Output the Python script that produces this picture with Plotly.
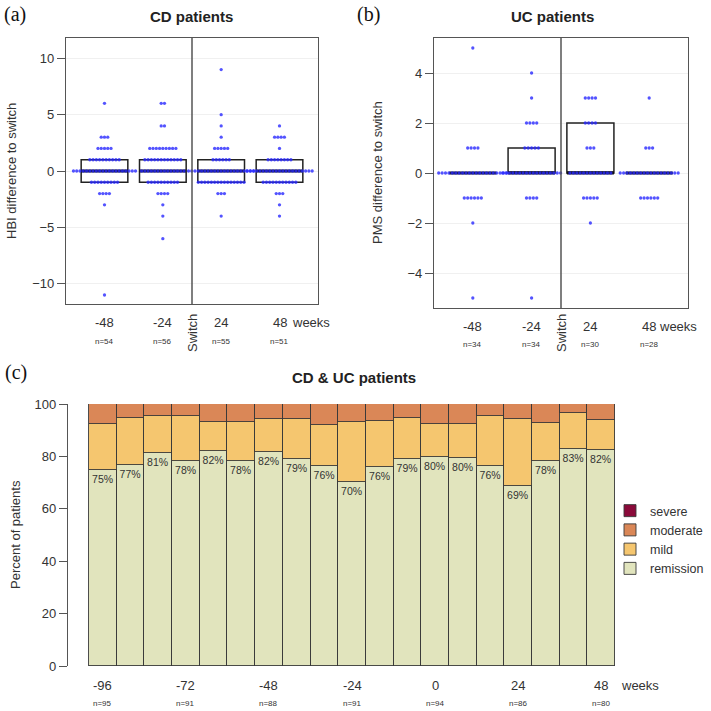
import plotly.graph_objects as go

# ---------------- data ----------------
# Panel (a): CD patients, HBI difference to switch; (value, count) per timepoint
cd_labels = ["-48", "-24", "24", "48"]
cd_n = [54, 56, 55, 51]
cd_m48 = [(6, 1), (3, 3), (2, 5), (1, 10), (0, 20), (-1, 9), (-2, 4), (-3, 1), (-11, 1)]
cd_m24 = [(6, 2), (4, 2), (2, 9), (1, 12), (0, 14), (-1, 10), (-2, 4), (-3, 1), (-4, 1), (-6, 1)]
cd_p24 = [(9, 1), (5, 1), (4, 1), (3, 1), (2, 5), (1, 6), (0, 21), (-1, 15), (-2, 3), (-4, 1)]
cd_p48 = [(4, 1), (3, 4), (2, 1), (1, 8), (0, 21), (-1, 11), (-2, 3), (-3, 1), (-4, 1)]
cd_q1 = [-1, -1, -1, -1]
cd_med = [0, 0, 0, 0]
cd_q3 = [1, 1, 1, 1]

# Panel (b): UC patients, PMS difference to switch
uc_labels = ["-48", "-24", "24", "48"]
uc_n = [34, 34, 30, 28]
uc_m48 = [(5, 1), (1, 4), (0, 21), (-1, 6), (-2, 1), (-5, 1)]
uc_m24 = [(4, 1), (3, 1), (2, 4), (1, 5), (0, 18), (-1, 4), (-5, 1)]
uc_p24 = [(3, 4), (2, 4), (1, 3), (0, 13), (-1, 5), (-2, 1)]
uc_p48 = [(3, 1), (1, 3), (0, 18), (-1, 6)]
uc_q1 = [0, 0, 0, 0]
uc_med = [0, 0, 0, 0]
uc_q3 = [0, 1, 2, 0]

# Panel (c): CD & UC patients, percent per category
weeks = [-96, -88, -80, -72, -64, -56, -48, -40, -32, -24, -16, -8, 0, 8, 16, 24, 32, 40, 48]
remission = [74.8, 76.7, 81.4, 78.1, 82.2, 78.1, 81.7, 78.9, 76.3, 70.4, 76.0, 79.1, 79.8, 79.5, 76.4, 68.7, 78.4, 83.0, 82.4]
mild = [17.7, 17.8, 14.0, 17.4, 11.1, 14.9, 12.6, 15.5, 15.8, 22.9, 17.4, 15.4, 12.4, 12.7, 19.1, 25.4, 14.2, 13.4, 11.4]
moderate = [7.5, 5.5, 4.6, 4.5, 6.7, 7.0, 5.7, 5.6, 7.9, 6.7, 6.6, 5.5, 7.8, 7.8, 4.5, 5.9, 7.4, 3.6, 6.2]
severe = [0] * 19
c_tick_weeks = [-96, -72, -48, -24, 0, 24, 48]
c_tick_n = [95, 91, 88, 91, 94, 86, 80]

# ---------------- styling ----------------
W = H = 711
FONT = "Liberation Sans, Arial, sans-serif"
SERIF = "Liberation Serif, Times New Roman, serif"
TXT = "#333333"
DOT = "rgba(40,40,255,0.8)"
COL_REM = "#E1E4BD"
COL_MILD = "#F5C66F"
COL_MOD = "#DA8757"
COL_SEV = "#8A0A3A"


def px_x(p):
    return p / W


def px_y(p):
    return 1 - p / H


fig = go.Figure()


def add_dot_panel(groups, q1, med, q3, xa, ya, dx):
    xs = [1, 2, 3, 4]
    # boxes (no whiskers)
    fig.add_trace(go.Box(
        x=xs, q1=q1, median=med, q3=q3, lowerfence=q1, upperfence=q3,
        width=0.8, whiskerwidth=0, fillcolor="rgba(0,0,0,0)",
        line=dict(color="#222222", width=1.5), boxpoints=False,
        xaxis=xa, yaxis=ya, showlegend=False, hoverinfo="skip"))
    # thick median lines
    mx, my = [], []
    for x, m in zip(xs, med):
        mx += [x - 0.4, x + 0.4, None]
        my += [m, m, None]
    fig.add_trace(go.Scatter(x=mx, y=my, mode="lines", line=dict(color="#111111", width=3),
                             xaxis=xa, yaxis=ya, showlegend=False, hoverinfo="skip"))
    # dots
    dxs, dys = [], []
    for x, grp in zip(xs, groups):
        for v, c in grp:
            for k in range(c):
                dxs.append(x + (k - (c - 1) / 2) * dx)
                dys.append(v)
    fig.add_trace(go.Scatter(x=dxs, y=dys, mode="markers",
                             marker=dict(size=3.3, color=DOT, line=dict(width=0)),
                             xaxis=xa, yaxis=ya, showlegend=False, hoverinfo="skip"))


add_dot_panel([cd_m48, cd_m24, cd_p24, cd_p48], cd_q1, cd_med, cd_q3, "x", "y", 0.056)
add_dot_panel([uc_m48, uc_m24, uc_p24, uc_p48], uc_q1, uc_med, uc_q3, "x2", "y2", 0.058)

# Panel (c) stacked bars
idx = list(range(len(weeks)))
bar_line = dict(color="#3a3a3a", width=0.9)
fig.add_trace(go.Bar(x=idx, y=remission, name="remission", marker=dict(color=COL_REM, line=bar_line),
                     text=[f"{round(v)}%" for v in remission], textposition="inside",
                     insidetextanchor="end", textangle=0, constraintext="none",
                     textfont=dict(size=10.5, color=TXT, family=FONT),
                     xaxis="x3", yaxis="y3", hoverinfo="skip"))
fig.add_trace(go.Bar(x=idx, y=mild, name="mild", marker=dict(color=COL_MILD, line=bar_line),
                     xaxis="x3", yaxis="y3", hoverinfo="skip"))
fig.add_trace(go.Bar(x=idx, y=moderate, name="moderate", marker=dict(color=COL_MOD, line=bar_line),
                     xaxis="x3", yaxis="y3", hoverinfo="skip"))
fig.add_trace(go.Bar(x=idx, y=severe, name="severe", marker=dict(color=COL_SEV, line=bar_line),
                     xaxis="x3", yaxis="y3", hoverinfo="skip"))

box_axis = dict(showline=True, mirror=True, linecolor="#555555", linewidth=1.3, zeroline=False)

fig.update_layout(
    width=W, height=H, autosize=False,
    margin=dict(l=0, r=0, t=0, b=0, autoexpand=False),
    paper_bgcolor="white", plot_bgcolor="white",
    font=dict(family=FONT, size=13, color=TXT),
    barmode="stack", bargap=0,
    showlegend=True,
    legend=dict(x=px_x(610), y=px_y(496), xanchor="left", yanchor="top",
                traceorder="reversed", font=dict(size=12.5, color=TXT, family=FONT),
                bgcolor="rgba(0,0,0,0)", tracegroupgap=0, itemwidth=30),
    xaxis=dict(domain=[px_x(66), px_x(318)], range=[0.34, 4.66], showticklabels=False,
               showgrid=False, ticks="", **box_axis),
    yaxis=dict(domain=[px_y(304), px_y(38)], range=[-11.8, 11.8], tickvals=[-10, -5, 0, 5, 10],
               ticks="outside", ticklen=8, tickcolor="#555555", showgrid=True, gridcolor="#f0f0f0",
               gridwidth=1, tickfont=dict(size=13), **box_axis),
    xaxis2=dict(domain=[px_x(434), px_x(688)], range=[0.34, 4.66], showticklabels=False,
                showgrid=False, ticks="", anchor="y2", **box_axis),
    yaxis2=dict(domain=[px_y(308), px_y(38)], range=[-5.4, 5.4], tickvals=[-4, -2, 0, 2, 4],
                ticks="outside", ticklen=8, tickcolor="#555555", showgrid=True, gridcolor="#f0f0f0",
                gridwidth=1, anchor="x2", tickfont=dict(size=13), **box_axis),
    xaxis3=dict(domain=[px_x(68), px_x(615)], range=[-1.26, 18.5], showticklabels=False,
                showgrid=False, zeroline=False, showline=False, ticks="", anchor="y3"),
    yaxis3=dict(domain=[px_y(666), px_y(404)], range=[0, 100], tickvals=[0, 20, 40, 60, 80, 100],
                ticks="outside", ticklen=8, tickcolor="#555555", showline=True, linecolor="#555555",
                linewidth=1.3, showgrid=False, zeroline=False, anchor="x3", tickfont=dict(size=13)),
)

# switch lines
for xa, ya in (("x", "y"), ("x2", "y2")):
    fig.add_shape(type="line", xref=xa, yref=f"{ya} domain", x0=2.5, x1=2.5, y0=0, y1=1,
                  line=dict(color="#555555", width=1.5))

ann = []
# titles and panel letters
ann.append(dict(text="<b>CD patients</b>", x=px_x(192), y=px_y(16), font=dict(size=15, color="#222")))
ann.append(dict(text="<b>UC patients</b>", x=px_x(552), y=px_y(16), font=dict(size=15, color="#222")))
ann.append(dict(text="<b>CD &amp; UC patients</b>", x=px_x(354), y=px_y(378), font=dict(size=15, color="#222")))
ann.append(dict(text="(a)", x=px_x(15), y=px_y(15), font=dict(size=20, family=SERIF, color="#111")))
ann.append(dict(text="(b)", x=px_x(368), y=px_y(15), font=dict(size=20, family=SERIF, color="#111")))
ann.append(dict(text="(c)", x=px_x(16), y=px_y(372), font=dict(size=20, family=SERIF, color="#111")))
# y-axis titles
ann.append(dict(text="HBI difference to switch", x=px_x(12), y=px_y(171), textangle=-90, font=dict(size=13)))
ann.append(dict(text="PMS difference to switch", x=px_x(377), y=px_y(173), textangle=-90, font=dict(size=13)))
ann.append(dict(text="Percent of patients", x=px_x(15), y=px_y(535), textangle=-90, font=dict(size=13)))

# x labels for panels (a) and (b)
for xa, labels, ns, ylab, yn, wx in (("x", cd_labels, cd_n, 322, 341, 290),
                                    ("x2", uc_labels, uc_n, 326, 344, 657)):
    for i, (lab, n) in enumerate(zip(labels, ns)):
        ann.append(dict(text=lab, xref=xa, x=i + 1, y=px_y(ylab), font=dict(size=13)))
        ann.append(dict(text=f"n={n}", xref=xa, x=i + 1, y=px_y(yn), font=dict(size=8)))
    ann.append(dict(text="weeks", x=px_x(wx), y=px_y(ylab), xanchor="left", font=dict(size=13)))
    ann.append(dict(text="Switch", xref=xa, x=2.5, y=px_y(333), textangle=-90, font=dict(size=13)))

# x labels for panel (c)
for wk, n in zip(c_tick_weeks, c_tick_n):
    i = weeks.index(wk)
    ann.append(dict(text=str(wk), xref="x3", x=i, y=px_y(685), font=dict(size=13)))
    ann.append(dict(text=f"n={n}", xref="x3", x=i, y=px_y(703), font=dict(size=8)))
ann.append(dict(text="weeks", x=px_x(619), y=px_y(685), xanchor="left", font=dict(size=13)))

for a in ann:
    a.setdefault("xref", "paper")
    a.setdefault("yref", "paper")
    a.setdefault("showarrow", False)
    a.setdefault("xanchor", "center")
    a.setdefault("yanchor", "middle")
fig.update_layout(annotations=ann)

fig.write_html("out.html", config={"displayModeBar": False},
               post_script="document.body.style.margin='0';document.body.style.padding='0';")
